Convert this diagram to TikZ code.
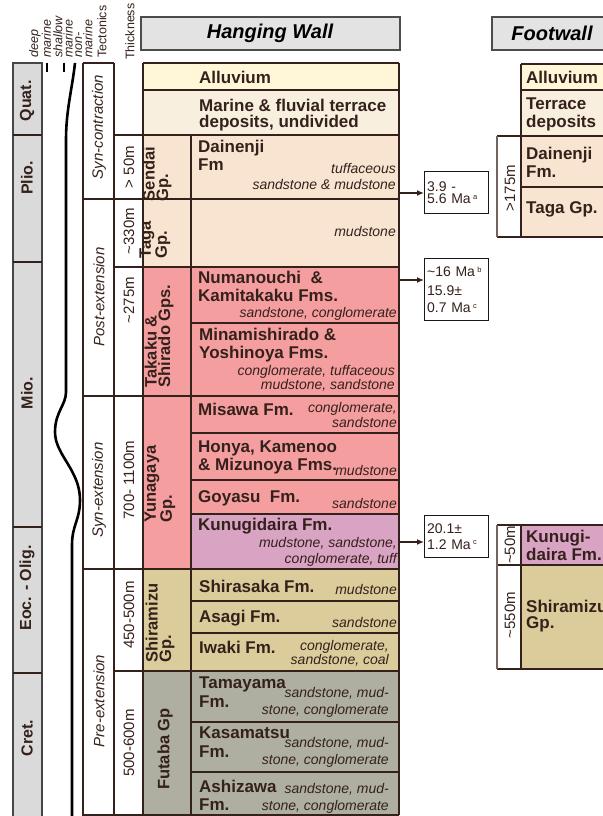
\documentclass[tikz,border=0pt]{standalone}
\usepackage{fontspec}
\setmainfont{Liberation Sans}
\usetikzlibrary{arrows.meta}
\definecolor{ink}{HTML}{35211B}
\definecolor{alluvcol}{HTML}{FFF7D8}
\definecolor{terrcol}{HTML}{F8EFDF}
\definecolor{peachcol}{HTML}{F8E4D0}
\definecolor{rosecol}{HTML}{F59EA0}
\definecolor{mauvecol}{HTML}{D9A3C3}
\definecolor{shiracol}{HTML}{DCCB9B}
\definecolor{futacol}{HTML}{AEAFA0}
\definecolor{epochcol}{HTML}{DADADA}
\newcommand{\agesup}[1]{\,\raisebox{4.5pt}{\fontsize{7.5}{7.5}\selectfont #1}}

\begin{document}
\begin{tikzpicture}[x=1pt,y=-1pt,
  unitline/.style={draw=ink, line width=1.5pt},
  fmname/.style={font=\fontsize{17}{17.5}\selectfont\bfseries, text=ink, anchor=base west, align=left, inner sep=0pt},
  litho/.style={font=\fontsize{14}{15.5}\selectfont\itshape, text=ink, anchor=base east, align=right, inner sep=0pt},
  gplabel/.style={font=\fontsize{16.5}{13.5}\selectfont\bfseries, text=ink, rotate=90, align=left, inner sep=0pt},
  eplabel/.style={font=\fontsize{16}{16}\selectfont\bfseries, text=ink, rotate=90, inner sep=0pt},
  collabel/.style={font=\fontsize{15}{15}\selectfont, text=ink, rotate=90, inner sep=0pt},
  headlabel/.style={font=\fontsize{12.5}{9}\selectfont, text=ink, rotate=90, anchor=west, align=left, inner sep=0pt},
  titlebox/.style={draw=gray!60!black, fill=gray!22, line width=1.5pt},
  titletext/.style={font=\fontsize{20}{20}\selectfont\bfseries\itshape, text=black},
  agebox/.style={draw=gray!20!black, fill=white, line width=1.3pt, font=\fontsize{14}{13}\selectfont, text=ink, align=left, anchor=north west, minimum width=64pt, minimum height=42pt, text width=59pt, inner xsep=2.5pt, inner ysep=2pt},
  agearrow/.style={draw=ink, line width=1.4pt, -{Latex[length=7pt,width=6pt]}}]
\useasboundingbox (0,0) rectangle (602,816);

% column headings
\node (deep) [headlabel, font=\fontsize{12.5}{8.5}\selectfont\itshape] at (40,58) {deep\\marine};
\node (shallow) [headlabel, font=\fontsize{12.5}{8.5}\selectfont\itshape] at (63,58) {shallow\\marine};
\node (nonmarine) [headlabel, font=\fontsize{12.5}{8.5}\selectfont\itshape] at (84,58) {non-\\marine};
\node (tectonics) [headlabel] at (102,58) {Tectonics};
\node (thickness) [headlabel] at (130,60) {Thickness};
\draw[titlebox] (141,17) rectangle (400,50);
\node (hwtitle) [titletext] at (270,33) {Hanging Wall};
\draw[titlebox] (492,17) rectangle (640,50);
\node (fwtitle) [titletext] at (552,33) {Footwall};

% epochs
\fill[epochcol] (13,63) rectangle (42,816);
\draw[draw=gray!55!black, line width=1.5pt] (13,816) -- (13,63) -- (42,63) -- (42,816);
\foreach \y in {135,262,527,673}
  \draw[unitline] (13,\y) -- (42,\y);
\node (quat) [eplabel] at (27,101) {Quat.};
\node (plio) [eplabel] at (27,178) {Plio.};
\node (mio) [eplabel] at (27,393) {Mio.};
\node (eoc) [eplabel] at (27,588) {Eoc. - Olig.};
\node (cret) [eplabel] at (27,738) {Cret.};

% relative sea level
\draw[line width=2pt] (47,63) -- (47,72) (64,63) -- (64,72);
\draw[line width=2.6pt] (75,63) .. controls (72,90) and (66,110) .. (66,140) -- (66,392)
  .. controls (66,405) and (55,412) .. (55,432) .. controls (55,455) and (80,470) .. (80,500)
  .. controls (80,520) and (72,525) .. (72,545) -- (72,816);

% hanging wall fills
\fill[alluvcol] (143,63) rectangle (399,90);
\fill[terrcol] (143,90) rectangle (399,135);
\foreach \ya/\yb/\c in {135/267/peachcol, 267/569/rosecol, 569/671/shiracol, 671/816/futacol}
  \fill[\c] (143,\ya) rectangle (191,\yb);
\foreach \ya/\yb/\c in {135/267/peachcol, 267/514/rosecol, 514/569/mauvecol, 569/671/shiracol, 671/816/futacol}
  \fill[\c] (191,\ya) rectangle (399,\yb);

% hanging wall lines
\draw[unitline] (83,63) -- (114,63) (143,63) -- (399,63) (143,90) -- (399,90);
\foreach \y in {323,433,480,514,601,633,722,772}
  \draw[unitline, line width=1.3pt] (191,\y) -- (399,\y);
\foreach \y in {135,267,671}
  \draw[unitline] (114,\y) -- (399,\y);
\foreach \y in {199,396,569}
  \draw[unitline] (83,\y) -- (399,\y);
\draw[unitline] (83,63) -- (83,815) -- (399,815);
\draw[unitline, line width=1.1pt] (114,63) -- (114,815);
\draw[unitline] (143,63) -- (143,815);
\draw[unitline, line width=1.2pt] (191,135) -- (191,815);
\draw[unitline, line width=2.2pt] (399,63) -- (399,815);

% tectonics and thickness
\node (syncon) [collabel, font=\fontsize{15}{15}\selectfont\itshape] at (99,127) {Syn-contraction};
\node (postext) [collabel, font=\fontsize{15}{15}\selectfont\itshape] at (99,297) {Post-extension};
\node (synext) [collabel, font=\fontsize{15}{15}\selectfont\itshape] at (99,490) {Syn-extension};
\node (preext) [collabel, font=\fontsize{15}{15}\selectfont\itshape] at (99,701) {Pre-extension};
\node (th-sendai) [collabel] at (129,167) {> 50m};
\node (th-taga) [collabel] at (129,231) {\textasciitilde330m};
\node (th-takaku) [collabel] at (129,300) {\textasciitilde275m};
\node (th-yunagaya) [collabel] at (129,480) {700- 1100m};
\node (th-shiramizu) [collabel] at (129,615) {450-500m};
\node (th-futaba) [collabel] at (129,743) {500-600m};

% groups
\node (sendai) [gplabel] at (157,174) {Sendai\\Gp.};
\node (taga) [gplabel] at (155,240) {Taga\\Gp.};
\node (takaku) [gplabel] at (159,336) {Takaku \&\\Shirado Gps.};
\node (yunagaya) [gplabel] at (160,484) {Yunagaya\\Gp.};
\node (shiramizu) [gplabel] at (160,623) {Shiramizu\\Gp.};
\node (futaba) [gplabel] at (165,749) {Futaba Gp};

% formations (multi-line nodes sit on their last line)
\node (alluvium) [fmname] at (199,84) {Alluvium};
\node (terrace) [fmname, font=\fontsize{17}{16}\selectfont\bfseries] at (199,127) {Marine \& fluvial terrace\\deposits, undivided};
\node (dainenji) [fmname] at (198,170) {Dainenji\\Fm};
\node (numanouchi) [fmname] at (198,301) {Numanouchi\ \ \&\\Kamitakaku Fms.};
\node (minami) [fmname] at (199,358) {Minamishirado \&\\Yoshinoya Fms.};
\node (misawa) [fmname] at (198,415) {Misawa Fm.};
\node (honya) [fmname] at (198,470) {Honya, Kamenoo\\\& Mizunoya Fms.};
\node (goyasu) [fmname] at (198,502) {Goyasu\ \ Fm.};
\node (kunugi) [fmname] at (198,530) {Kunugidaira Fm.};
\node (shirasaka) [fmname] at (199,592) {Shirasaka Fm.};
\node (asagi) [fmname] at (199,622) {Asagi Fm.};
\node (iwaki) [fmname] at (199,653) {Iwaki Fm.};
\node (tamayama) [fmname, font=\fontsize{17}{19}\selectfont\bfseries] at (199,707) {Tamayama\\Fm.};
\node (kasamatsu) [fmname, font=\fontsize{17}{19}\selectfont\bfseries] at (199,757) {Kasamatsu\\Fm.};
\node (ashizawa) [fmname] at (199,810) {Ashizawa\\Fm.};

% lithologies
\node (dainenji-l) [litho, font=\fontsize{14}{16}\selectfont\itshape] at (396,189) {tuffaceous\\sandstone \& mudstone};
\node (taga-l) [litho] at (396,236) {mudstone};
\node (numanouchi-l) [litho] at (397,317) {sandstone, conglomerate};
\node (minami-l) [litho, font=\fontsize{14}{14}\selectfont\itshape] at (395,389) {conglomerate, tuffaceous\\mudstone, sandstone};
\node (misawa-l) [litho, font=\fontsize{14}{12.5}\selectfont\itshape] at (397,427) {conglomerate,\\sandstone};
\node (honya-l) [litho] at (397,475) {mudstone};
\node (goyasu-l) [litho] at (397,508) {sandstone};
\node (kunugi-l) [litho, font=\fontsize{14}{16}\selectfont\itshape] at (397,563) {mudstone, sandstone,\\conglomerate, tuff};
\node (shirasaka-l) [litho] at (397,594) {mudstone};
\node (asagi-l) [litho] at (397,627) {sandstone};
\node (iwaki-l) [litho, font=\fontsize{14}{14}\selectfont\itshape] at (389,664) {conglomerate,\\sandstone, coal};
\node (tamayama-l) [litho, font=\fontsize{14}{17}\selectfont\itshape] at (389,714) {sandstone, mud-\\stone, conglomerate};
\node (kasamatsu-l) [litho, font=\fontsize{14}{17}\selectfont\itshape] at (389,764) {sandstone, mud-\\stone, conglomerate};
\node (ashizawa-l) [litho, font=\fontsize{14}{17}\selectfont\itshape] at (389,810) {sandstone, mud-\\stone, conglomerate};

% ages
\node (age-a) [agebox, font=\fontsize{14}{12.5}\selectfont] at (424,171) {3.9 -\\5.6 Ma\agesup{a}};
\node (age-b) [agebox, minimum height=62pt, font=\fontsize{14}{19}\selectfont] at (424,258) {\textasciitilde16 Ma\agesup{b}\\15.9±\\[-2pt]0.7 Ma\agesup{c}};
\node (age-c) [agebox, font=\fontsize{14}{16}\selectfont] at (424,515) {20.1±\\1.2 Ma\agesup{c}};
\coordinate (dainenji-r) at (399,193);
\coordinate (takaku-r) at (399,280);
\coordinate (kunugi-r) at (399,542);
\draw[agearrow] (dainenji-r) -- (dainenji-r -| age-a.west);
\draw[agearrow] (takaku-r) -- (takaku-r -| age-b.west);
\draw[agearrow] (kunugi-r) -- (kunugi-r -| age-c.west);

% footwall
\fill[alluvcol] (521,64) rectangle (610,90);
\fill[terrcol] (521,90) rectangle (610,136);
\fill[peachcol] (521,136) rectangle (610,237);
\fill[mauvecol] (521,525) rectangle (610,565);
\fill[shiracol] (521,565) rectangle (610,669);
\draw[unitline] (521,64) -- (610,64) (521,90) -- (610,90) (521,187) -- (610,187) (521,64) -- (521,237);
\draw[unitline] (497,136) -- (610,136) (497,237) -- (610,237);
\draw[unitline] (497,525) -- (610,525) (497,565) -- (610,565) (497,669) -- (610,669) (521,525) -- (521,669);
\draw[unitline, draw=ink!70, line width=1.1pt] (497,136) -- (497,237) (497,525) -- (497,669);
\node (fw-alluvium) [fmname] at (526,83) {Alluvium};
\node (fw-terrace) [fmname] at (526,127) {Terrace\\deposits};
\node (fw-dainenji) [fmname] at (526,177) {Dainenji\\Fm.};
\node (fw-taga) [fmname] at (526,213) {Taga Gp.};
\node (fw-kunugi) [fmname] at (526,560) {Kunugi-\\daira Fm.};
\node (fw-shiramizu) [fmname, font=\fontsize{17}{15.5}\selectfont\bfseries] at (526,628) {Shiramizu\\Gp.};
\node (fw-th-upper) [collabel] at (510,188) {>175m};
\node (fw-th-kunugi) [collabel] at (510,545) {\textasciitilde50m};
\node (fw-th-shiramizu) [collabel] at (510,615) {\textasciitilde550m};
\end{tikzpicture}
\end{document}
